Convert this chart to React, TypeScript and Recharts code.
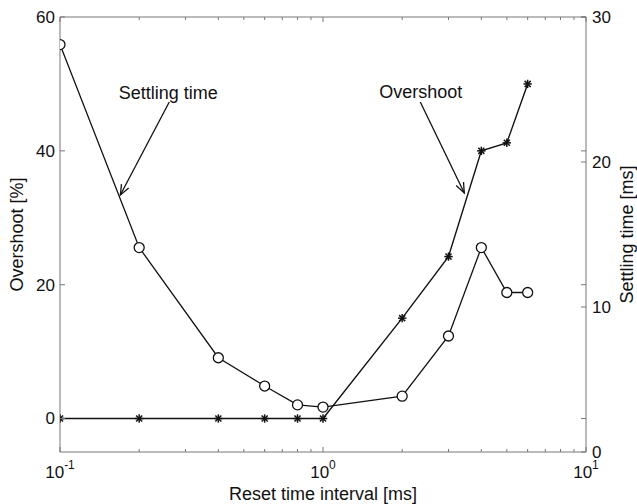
import React from "react";
import { ComposedChart, Line, XAxis, YAxis, ReferenceLine, ReferenceDot, Label } from "recharts";

// reset time interval [ms] (log axis)
const interval = [0.1, 0.2, 0.4, 0.6, 0.8, 1, 2, 3, 4, 5, 6];
// overshoot [%] – left axis, star markers
const overshoot = [0, 0, 0, 0, 0, 0, 15, 24.2, 40, 41.2, 50];
// settling time [ms] – right axis, circle markers
const settling = [28.1, 14.1, 6.5, 4.55, 3.25, 3.1, 3.85, 8.0, 14.1, 11.0, 11.0];

const xMajor = [0.1, 1, 10];
const xMinor = [0.2, 0.3, 0.4, 0.5, 0.6, 0.7, 0.8, 0.9, 2, 3, 4, 5, 6, 7, 8, 9];
const overshootTicks = [0, 20, 40, 60];
const settlingTicks = [0, 10, 20, 30];

// annotations: [x, y] in data units, text anchor then arrow start -> tip
const settlingNote = { text: [0.258, 24.34], from: [0.2603, 24.14], to: [0.1696, 17.72] };
const overshootNote = { text: [2.355, 47.9], from: [2.344, 47.3], to: [3.445, 33.7] };

const data = interval.map((t, i) => ({ t, overshoot: overshoot[i], settling: settling[i] }));

const W = 637;
const H = 504;
const LEFT_W = 60;
const RIGHT_W = 51;
const TOP = 17;
const BOTTOM_H = 52;
const PLOT_W = W - LEFT_W - RIGHT_W;
const PLOT_H = H - TOP - BOTTOM_H;

const FONT = "'Liberation Sans', Arial, Helvetica, sans-serif";
const INK = "#111";
const AXIS = "#777";

const XTick = (props: any) => {
  const { x, y, payload } = props;
  const v = payload.value;
  const major = xMajor.includes(v);
  const len = major ? 5 : 3;
  const exp = Math.round(Math.log10(v));
  return (
    <g>
      <line x1={x} y1={y} x2={x} y2={y - len} stroke={AXIS} />
      <line x1={x} y1={y - PLOT_H} x2={x} y2={y - PLOT_H + len} stroke={AXIS} />
      {major && (
        <text x={x} y={y + 26} textAnchor="middle" fontSize={17} fill={INK} fontFamily={FONT}>
          <tspan>10</tspan>
          <tspan dy={-9} fontSize={12}>{exp}</tspan>
        </text>
      )}
    </g>
  );
};

const LeftTick = (props: any) => {
  const { x, y, payload } = props;
  return (
    <g>
      <line x1={x} y1={y} x2={x + 5} y2={y} stroke={AXIS} />
      <line x1={x + PLOT_W} y1={y} x2={x + PLOT_W - 5} y2={y} stroke={AXIS} />
      <text x={x - 5} y={y} dy="0.35em" textAnchor="end" fontSize={17} fill={INK} fontFamily={FONT}>
        {payload.value}
      </text>
    </g>
  );
};

const RightTick = (props: any) => {
  const { x, y, payload } = props;
  return (
    <g>
      <line x1={x} y1={y} x2={x - 5} y2={y} stroke={AXIS} />
      <text x={x + 6} y={y} dy="0.35em" textAnchor="start" fontSize={17} fill={INK} fontFamily={FONT}>
        {payload.value}
      </text>
    </g>
  );
};

const Circle = (p: any) => {
  if (p.cx == null || p.cy == null) return <g key={p.key} />;
  return <circle key={p.key} cx={p.cx} cy={p.cy} r={5} fill="#fff" stroke={INK} strokeWidth={1.3} />;
};

const Star = (p: any) => {
  if (p.cx == null || p.cy == null) return <g key={p.key} />;
  const { cx, cy } = p;
  const r = 4.2;
  const d = r * 0.72;
  return (
    <g key={p.key} stroke={INK} strokeWidth={1.5}>
      <line x1={cx - r} y1={cy} x2={cx + r} y2={cy} />
      <line x1={cx} y1={cy - r} x2={cx} y2={cy + r} />
      <line x1={cx - d} y1={cy - d} x2={cx + d} y2={cy + d} />
      <line x1={cx - d} y1={cy + d} x2={cx + d} y2={cy - d} />
    </g>
  );
};

const Arrow = (p: any) => {
  const { x1, y1, x2, y2 } = p;
  const a = Math.atan2(y2 - y1, x2 - x1);
  const len = 11;
  const spread = 0.38;
  const ax = x2 - len * Math.cos(a - spread);
  const ay = y2 - len * Math.sin(a - spread);
  const bx = x2 - len * Math.cos(a + spread);
  const by = y2 - len * Math.sin(a + spread);
  return (
    <g stroke={INK} strokeWidth={1.3} fill="none">
      <line x1={x1} y1={y1} x2={x2} y2={y2} />
      <polyline points={`${ax},${ay} ${x2},${y2} ${bx},${by}`} />
    </g>
  );
};

const noteText = (text: string) => (p: any) => (
  <text x={p.cx} y={p.cy} textAnchor="middle" fontSize={18} fill={INK} fontFamily={FONT}>
    {text}
  </text>
);

export default function App() {
  return (
    <div style={{ position: "absolute", left: 0, top: 0, width: W, height: H, background: "#fff" }}>
      <ComposedChart width={W} height={H} data={data} margin={{ top: TOP, right: 0, bottom: 0, left: 0 }}>
        <XAxis
          dataKey="t"
          type="number"
          scale="log"
          domain={[0.1, 10]}
          ticks={[...xMajor, ...xMinor]}
          interval={0}
          height={BOTTOM_H}
          tickSize={0}
          tickMargin={0}
          tickLine={false}
          axisLine={{ stroke: AXIS }}
          tick={<XTick />}
          allowDataOverflow
        >
          <Label
            content={(p: any) => (
              <text
                x={p.viewBox.x + p.viewBox.width / 2}
                y={p.viewBox.y + 48}
                textAnchor="middle"
                fontSize={18}
                fill={INK}
                fontFamily={FONT}
              >
                Reset time interval [ms]
              </text>
            )}
          />
        </XAxis>
        <YAxis
          yAxisId="left"
          orientation="left"
          type="number"
          domain={[-5, 60]}
          ticks={overshootTicks}
          interval={0}
          width={LEFT_W}
          tickSize={0}
          tickMargin={0}
          tickLine={false}
          axisLine={{ stroke: AXIS }}
          tick={<LeftTick />}
          allowDataOverflow
        >
          <Label
            content={(p: any) => {
              const cx = p.viewBox.x + 23;
              const cy = p.viewBox.y + p.viewBox.height / 2;
              return (
                <text x={cx} y={cy} transform={`rotate(-90 ${cx} ${cy})`} textAnchor="middle" fontSize={18} fill={INK} fontFamily={FONT}>
                  Overshoot [%]
                </text>
              );
            }}
          />
        </YAxis>
        <YAxis
          yAxisId="right"
          orientation="right"
          type="number"
          domain={[0, 30]}
          ticks={settlingTicks}
          interval={0}
          width={RIGHT_W}
          tickSize={0}
          tickMargin={0}
          tickLine={false}
          axisLine={{ stroke: AXIS }}
          tick={<RightTick />}
          allowDataOverflow
        >
          <Label
            content={(p: any) => {
              const cx = p.viewBox.x + 47;
              const cy = p.viewBox.y + p.viewBox.height / 2;
              return (
                <text x={cx} y={cy} transform={`rotate(-90 ${cx} ${cy})`} textAnchor="middle" fontSize={18} fill={INK} fontFamily={FONT}>
                  Settling time [ms]
                </text>
              );
            }}
          />
        </YAxis>

        <ReferenceLine yAxisId="left" y={60} stroke={AXIS} />

        <Line
          yAxisId="right"
          dataKey="settling"
          type="linear"
          stroke={INK}
          strokeWidth={1.3}
          dot={Circle}
          isAnimationActive={false}
        />
        <Line
          yAxisId="left"
          dataKey="overshoot"
          type="linear"
          stroke={INK}
          strokeWidth={1.4}
          dot={Star}
          isAnimationActive={false}
        />

        <ReferenceLine
          yAxisId="right"
          segment={[
            { x: settlingNote.from[0], y: settlingNote.from[1] },
            { x: settlingNote.to[0], y: settlingNote.to[1] },
          ]}
          shape={Arrow}
        />
        <ReferenceLine
          yAxisId="left"
          segment={[
            { x: overshootNote.from[0], y: overshootNote.from[1] },
            { x: overshootNote.to[0], y: overshootNote.to[1] },
          ]}
          shape={Arrow}
        />
        <ReferenceDot yAxisId="right" x={settlingNote.text[0]} y={settlingNote.text[1]} shape={noteText("Settling time")} />
        <ReferenceDot yAxisId="left" x={overshootNote.text[0]} y={overshootNote.text[1]} shape={noteText("Overshoot")} />
      </ComposedChart>
    </div>
  );
}
